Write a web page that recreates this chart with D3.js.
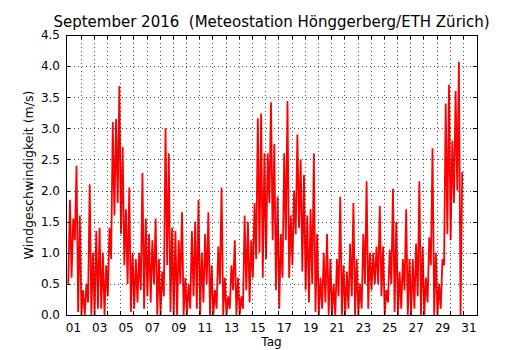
<!DOCTYPE html>
<html>
<head>
<meta charset="utf-8">
<script src="https://cdn.jsdelivr.net/npm/d3@7"></script>
<style>
    body { margin: 0; background: #fff; }
    svg { display: block; font-family: "DejaVu Sans", sans-serif; }
</style>
</head>
<body>
<svg id="chart" width="530" height="350"></svg>
<script>
const title = "September 2016  (Meteostation Hönggerberg/ETH Zürich)";
const xLabel = "Tag";
const yLabel = "Windgeschwindigkeit (m/s)";

const yTicks = [0, 0.5, 1, 1.5, 2, 2.5, 3, 3.5, 4, 4.5];
const dayTicks = d3.range(1, 31);
const dayLabels = ["01", "03", "05", "07", "09", "11", "13", "15",
    "17", "19", "21", "23", "25", "27", "29", "31"];

// 6-hour blocks, low / high wind speed (m/s), one row per day
const stepDays = 0.25;
const windLow = [
    0.5, 0.6, 1.2, 0.05,   0, 0, 0.2, 0,   0, 0.1, 0.1, 0,   0.3, 0.9, 1.6, 1.8,
    1.3, 0.8, 0.5, 0.05,   0.1, 0.2, 0.4, 0.1,   0.3, 0.2, 0.5, 0,   0, 0.3, 0.8, 0.05,
    0, 0, 0.5, 0,   0, 0.1, 0.3, 0.1,   0, 0.2, 0.5, 0,   0, 0.1, 0.5, 0,
    0, 0.1, 0.4, 0,   0, 0.1, 0.4, 0.2,   0.6, 0.9, 1.0, 0.6,   0.9, 1.8, 1.2, 0.4,
    0.1, 0.6, 1.2, 0.6,   0.8, 1.3, 1.4, 0.7,   0.4, 0.2, 0.5, 0.05,   0, 0.1, 0.2, 0,
    0, 0, 0.3, 0,   0, 0.1, 0.3, 0,   0, 0.1, 0.5, 0.1,   0.4, 0.5, 0.5, 0.3,
    0, 0.2, 0.5, 0.05,   0, 0.1, 0.4, 0,   0, 0.1, 0.3, 0,   0, 0.2, 0.8, 0,
    0, 0.1, 0.8, 1.3,   1.2, 1.8, 2.0, 0
];
const windHigh = [
    1.85, 1.55, 2.4, 1.6,   0.4, 0.5, 2.1, 1.0,   1.35, 1.4, 1.0, 0.8,   1.4, 3.1, 3.15, 3.68,
    2.7, 1.7, 2.05, 1.0,   0.9, 1.0, 2.28, 1.55,   1.3, 1.2, 1.55, 0.9,   0.7, 3.0, 2.6, 1.4,
    1.35, 1.2, 1.65, 0.6,   0.5, 1.35, 1.5, 1.85,   1.0, 1.3, 1.65, 0.8,   0.4, 1.1, 2.05, 0.6,
    0.3, 0.8, 1.2, 0.6,   0.3, 1.6, 1.5, 1.2,   1.8, 3.16, 3.24, 2.6,   2.6, 3.42, 2.75, 1.9,
    1.3, 2.6, 3.44, 1.6,   2.0, 2.9, 2.5, 2.25,   1.6, 1.7, 2.6, 1.3,   0.6, 1.0, 1.3, 0.9,
    0.5, 0.9, 1.9, 0.8,   0.7, 1.15, 1.8, 0.9,   0.5, 1.3, 2.15, 1.0,   1.0, 1.1, 1.75, 1.1,
    0.4, 1.05, 2.03, 1.5,   0.7, 0.9, 1.7, 0.9,   0.9, 1.15, 2.15, 1.1,   0.6, 1.25, 2.68, 1.0,
    0.5, 0.9, 3.4, 3.7,   2.8, 3.6, 4.07, 2.3
];

const margin = {left: 66, top: 35, right: 53, bottom: 35};
const svg = d3.select("#chart");
const width = +svg.attr("width") - margin.left - margin.right;
const height = +svg.attr("height") - margin.top - margin.bottom;

const x = d3.scaleLinear().domain([-0.11, 31.06]).range([0, width]);
const y = d3.scaleLinear().domain([0, 4.5]).range([height, 0]);

const g = svg.append("g")
    .attr("transform", `translate(${margin.left}, ${margin.top})`);

// low/high of each block drawn as a zigzag trace
const points = [];
windLow.forEach(function (v, i) {
    points.push({t: i * stepDays + stepDays * 0.25, v: v});
    points.push({t: i * stepDays + stepDays * 0.75, v: windHigh[i]});
});

g.append("path")
    .datum(points)
    .attr("fill", "none")
    .attr("stroke", "#ff0000")
    .attr("stroke-width", 1.8)
    .attr("stroke-linejoin", "miter")
    .attr("d", d3.line()
        .x(function (d) { return x(d.t); })
        .y(function (d) { return y(d.v); }));

// Grid (drawn above the data, dotted)
g.selectAll(".vgrid")
    .data(dayTicks)
    .enter()
    .append("line")
    .attr("x1", function (d) { return Math.round(x(d)) + 0.5; })
    .attr("x2", function (d) { return Math.round(x(d)) + 0.5; })
    .attr("y1", 0)
    .attr("y2", height)
    .attr("stroke", "#000")
    .attr("stroke-width", 0.7)
    .attr("stroke-dasharray", "1,3");

g.selectAll(".hgrid")
    .data(yTicks.slice(1, -1))
    .enter()
    .append("line")
    .attr("x1", 0)
    .attr("x2", width)
    .attr("y1", function (d) { return Math.round(y(d)) + 0.5; })
    .attr("y2", function (d) { return Math.round(y(d)) + 0.5; })
    .attr("stroke", "#000")
    .attr("stroke-width", 0.7)
    .attr("stroke-dasharray", "1,3");

// Inward tick marks on all four sides
const tickLen = 4;
dayTicks.forEach(function (d) {
    const px = Math.round(x(d)) + 0.5;
    g.append("line").attr("x1", px).attr("x2", px).attr("y1", height).attr("y2", height - tickLen)
        .attr("stroke", "#000");
    g.append("line").attr("x1", px).attr("x2", px).attr("y1", 0).attr("y2", tickLen)
        .attr("stroke", "#000");
});
yTicks.forEach(function (d) {
    const py = Math.round(y(d)) + 0.5;
    g.append("line").attr("x1", 0).attr("x2", tickLen).attr("y1", py).attr("y2", py)
        .attr("stroke", "#000");
    g.append("line").attr("x1", width).attr("x2", width - tickLen).attr("y1", py).attr("y2", py)
        .attr("stroke", "#000");
});

// Frame
g.append("rect")
    .attr("x", 0.5)
    .attr("y", 0.5)
    .attr("width", width)
    .attr("height", height)
    .attr("fill", "none")
    .attr("stroke", "#000")
    .attr("stroke-width", 1);

// Tick labels
g.selectAll(".ylab")
    .data(yTicks)
    .enter()
    .append("text")
    .attr("x", -6)
    .attr("y", function (d) { return y(d); })
    .attr("dy", "0.36em")
    .style("text-anchor", "end")
    .style("font-size", "12px")
    .text(function (d) { return d.toFixed(1); });

g.selectAll(".xlab")
    .data(dayLabels)
    .enter()
    .append("text")
    .attr("x", function (d, i) { return x(2 * i + 0.45); })
    .attr("y", height + 17)
    .style("text-anchor", "middle")
    .style("font-size", "12px")
    .text(function (d) { return d; });

// Axis titles
g.append("text")
    .attr("x", width / 2)
    .attr("y", height + 30.5)
    .style("text-anchor", "middle")
    .style("font-size", "12px")
    .text(xLabel);

g.append("text")
    .attr("transform", `translate(-33, ${height / 2}) rotate(-90)`)
    .style("text-anchor", "middle")
    .style("font-size", "12.5px")
    .text(yLabel);

// Title
g.append("text")
    .attr("x", width / 2)
    .attr("y", -8)
    .style("text-anchor", "middle")
    .style("font-size", "15px")
    .style("white-space", "pre")
    .text(title);
</script>
</body>
</html>
